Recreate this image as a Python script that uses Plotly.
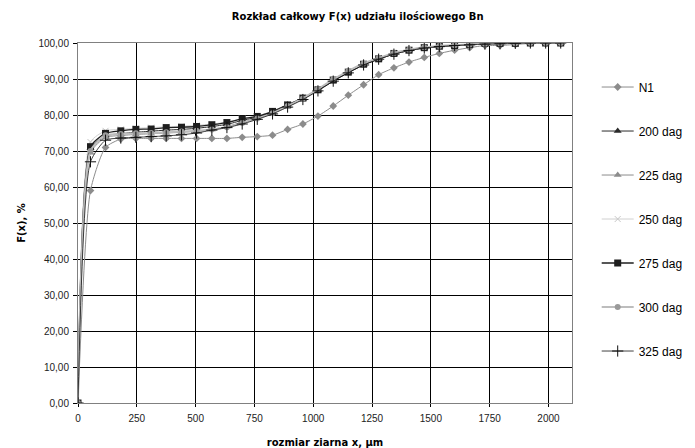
import plotly.graph_objects as go

x_um = [0, 53, 117, 182, 246, 311, 375, 440, 504, 569, 633, 698, 762, 827, 891, 956,
        1020, 1085, 1149, 1214, 1278, 1343, 1407, 1472, 1536, 1601, 1665, 1730, 1794,
        1859, 1923, 1988, 2052]

n1 = [0, 59.0, 71.0, 73.3, 73.5, 73.5, 73.5, 73.5, 73.5, 73.5, 73.5, 73.8, 74.0, 74.4,
      76.0, 77.5, 79.7, 82.5, 85.5, 88.4, 91.2, 93.1, 94.7, 96.0, 97.1, 98.0, 98.7,
      99.3, 99.3, 99.6, 99.9, 99.9, 99.9]
d200 = [0, 70.8, 74.2, 74.8, 75.2, 75.5, 75.8, 76.0, 76.3, 76.8, 77.4, 78.5, 79.4, 80.8,
        82.6, 84.5, 86.8, 89.4, 91.8, 93.9, 95.5, 96.9, 97.9, 98.6, 99.0, 99.3, 99.5,
        99.7, 99.8, 99.9, 100.0, 100.0, 100.0]
d225 = [0, 69.5, 73.8, 74.3, 74.6, 74.8, 75.0, 75.2, 75.5, 76.0, 76.8, 78.0, 79.2, 80.6,
        82.4, 84.4, 86.9, 89.6, 92.0, 94.1, 95.6, 97.0, 98.0, 98.7, 99.1, 99.3, 99.6,
        99.8, 99.8, 99.9, 100.0, 100.0, 100.0]
d250 = [0, 72.5, 75.6, 76.0, 76.3, 76.5, 76.7, 76.9, 77.1, 77.5, 78.0, 79.0, 79.7, 81.1,
        82.9, 84.8, 87.1, 89.8, 92.0, 94.2, 95.7, 97.1, 98.0, 98.7, 99.1, 99.3, 99.6,
        99.8, 99.9, 99.9, 100.0, 100.0, 100.0]
d275 = [0, 71.2, 74.9, 75.6, 76.0, 76.1, 76.5, 76.6, 76.8, 77.3, 77.9, 78.9, 79.6, 81.0,
        82.8, 84.7, 87.0, 89.7, 91.9, 94.1, 95.6, 97.1, 98.0, 98.7, 99.1, 99.3, 99.6,
        99.9, 99.9, 99.9, 100.0, 100.0, 100.0]
d300 = [0, 70.0, 74.4, 74.7, 74.9, 75.0, 75.2, 75.4, 75.6, 76.0, 76.6, 77.8, 79.0, 80.5,
        82.5, 84.6, 87.2, 89.9, 92.2, 94.3, 95.8, 97.2, 98.1, 98.8, 99.2, 99.4, 99.6,
        99.8, 99.9, 99.9, 100.0, 100.0, 100.0]
d325 = [0, 67.0, 73.0, 73.6, 73.8, 74.0, 74.2, 74.5, 75.0, 75.8, 76.5, 77.5, 78.8, 80.3,
        82.2, 84.3, 86.7, 89.4, 91.7, 93.9, 95.5, 96.9, 97.9, 98.6, 99.0, 99.3, 99.5,
        99.7, 99.8, 99.9, 100.0, 100.0, 100.0]

series = [
    ("N1", n1, dict(color="#8c8c8c", width=1), dict(symbol="diamond", size=6, color="#8c8c8c")),
    ("200 dag", d200, dict(color="#2a2a2a", width=1), dict(symbol="triangle-up", size=7, color="#2a2a2a")),
    ("225 dag", d225, dict(color="#8c8c8c", width=1), dict(symbol="triangle-up", size=7, color="#8c8c8c")),
    ("250 dag", d250, dict(color="#d0d0d0", width=1), dict(symbol="x-thin", size=6, color="#c8c8c8",
                                                        line=dict(color="#c8c8c8", width=1))),
    ("275 dag", d275, dict(color="#1e1e1e", width=1.3), dict(symbol="square", size=7, color="#1e1e1e")),
    ("300 dag", d300, dict(color="#bdbdbd", width=2), dict(symbol="circle", size=6, color="#9a9a9a")),
    ("325 dag", d325, dict(color="#111111", width=0.8), dict(symbol="cross-thin", size=8, color="#111111",
                                                          line=dict(color="#111111", width=1))),
]

fig = go.Figure()
for i, (name, ys, ln, mk) in enumerate(series):
    fig.add_trace(go.Scatter(
        x=x_um, y=ys, name=name, mode="lines+markers",
        line=dict(shape="spline", smoothing=0.6, **ln), marker=mk,
        legendgroup=f"g{i}",
    ))

font = "Arial, Liberation Sans, sans-serif"
bold = "DejaVu Sans, sans-serif"
fig.update_layout(
    width=687, height=440,
    margin=dict(l=70, r=123, t=35, b=45, autoexpand=False),
    paper_bgcolor="white", plot_bgcolor="white",
    separators=", ",
    font=dict(family=font, size=10, color="#000000"),
    title=dict(text="<b>Rozkład całkowy F(x) udziału ilościowego Bn</b>",
               xref="container", x=0.509, xanchor="center", y=0.98, yanchor="middle",
               font=dict(size=10, family=bold)),
    showlegend=True,
    legend=dict(x=1.05, xanchor="left", y=0.918, yanchor="top",
                font=dict(size=12, family=font), tracegroupgap=25,
                itemwidth=32, bgcolor="rgba(0,0,0,0)"),
    xaxis=dict(range=[0, 2100], tickvals=[0, 250, 500, 750, 1000, 1250, 1500, 1750, 2000],
               tickformat="d", showgrid=True, gridcolor="#000000", gridwidth=1,
               showline=True, linecolor="#808080", linewidth=1, mirror=True,
               ticks="outside", ticklen=3, tickcolor="#000000", zeroline=False,
               automargin=False, ticklabelstandoff=3,
               title=dict(text="<b>rozmiar ziarna x, µm</b>", font=dict(size=10, family=bold),
                          standoff=15),
               tickfont=dict(size=10, color="#222222")),
    yaxis=dict(range=[0, 100], dtick=10, tickformat=".2f", showgrid=True,
               gridcolor="#000000", gridwidth=1,
               showline=True, linecolor="#808080", linewidth=1, mirror=True,
               ticks="outside", ticklen=4, tickcolor="#000000", zeroline=False,
               automargin=False, ticklabelstandoff=2,
               title=dict(text="<b>F(x), %</b>", font=dict(size=10, family=bold), standoff=10),
               tickfont=dict(size=10, color="#222222")),
)

fig.write_html("out.html")
